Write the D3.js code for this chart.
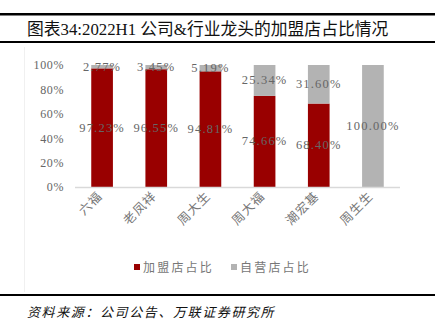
<!DOCTYPE html>
<html>
<head>
<meta charset="utf-8">
<script src="https://cdn.jsdelivr.net/npm/d3@7"></script>
<style>
  body { margin: 0; background: #fff; }
  svg { display: block; }
</style>
</head>
<body>
<svg></svg>
<script>
const companies = ['六福', '老凤祥', '周大生', '周大福', '潮宏基', '周生生'];
const franchiseShare = [97.23, 96.55, 94.81, 74.66, 68.40, 0];
const directShare = [2.77, 3.45, 5.19, 25.34, 31.60, 100];
const seriesNames = ['加盟店占比', '自营店占比'];
const yTicks = [0, 20, 40, 60, 80, 100];

const SVGsize = {w: 435, h: 321};
const plot = {l: 75, r: 400, t: 65, b: 187};
const colors = ['#990000', '#b3b3b3'];
const serif = '"Liberation Serif", "Noto Sans CJK SC", serif';
const cjk = '"Noto Sans CJK SC", sans-serif';

const svg = d3.select('svg')
    .attr('width', SVGsize.w)
    .attr('height', SVGsize.h);

// header / footer rules
svg.append('rect').attr('x', 0).attr('y', 13).attr('width', SVGsize.w).attr('height', 2.5).attr('fill', '#000');
svg.append('rect').attr('x', 0).attr('y', 41).attr('width', SVGsize.w).attr('height', 2).attr('fill', '#000');
svg.append('rect').attr('x', 0).attr('y', 294).attr('width', SVGsize.w).attr('height', 2).attr('fill', '#000');

svg.append('text')
    .attr('x', 27).attr('y', 35)
    .style('font-family', serif)
    .style('font-size', '16.8px')
    .attr('fill', '#111')
    .text('图表34:2022H1 公司&行业龙头的加盟店占比情况');

svg.append('text')
    .attr('x', 27).attr('y', 317)
    .style('font-family', cjk)
    .style('font-size', '13px')
    .style('font-style', 'italic')
    .style('letter-spacing', '1.6px')
    .attr('fill', '#111')
    .text('资料来源：公司公告、万联证券研究所');

// faint chart-area edge
svg.append('line')
    .attr('x1', 24.5).attr('x2', 24.5).attr('y1', 47).attr('y2', 292)
    .attr('stroke', '#f0f0f0');

const data = companies.map((c, i) => ({name: c, vals: [franchiseShare[i], directShare[i]]}));

const scaleX = d3.scaleBand()
    .domain(companies)
    .range([plot.l, plot.r])
    .paddingInner(0.6)
    .paddingOuter(0.3);

const scaleY = d3.scaleLinear()
    .domain([0, 100])
    .range([plot.b, plot.t]);

// y axis labels
const axisY = d3.axisLeft(scaleY)
    .tickValues(yTicks)
    .tickFormat(d => d + '%')
    .tickSize(0)
    .tickPadding(0);
const axisYG = svg.append('g')
    .attr('transform', 'translate(64, 0)')
    .call(axisY);
axisYG.select('.domain').remove();
axisYG.selectAll('text')
    .style('font-family', serif)
    .style('font-size', '12px')
    .style('letter-spacing', '0.6px')
    .attr('fill', '#666');

// stacked bars
data.forEach(d => {
    let base = 0;
    d.segs = d.vals.map((v, k) => {
        const s = {name: d.name, k: k, v: v, y0: base, y1: base + v};
        base += v;
        return s;
    });
});

const barG = svg.append('g');
barG.selectAll('g.bar')
    .data(data)
    .join('g')
    .classed('bar', true)
    .selectAll('rect')
    .data(d => d.segs.filter(s => s.v > 0))
    .join('rect')
    .attr('x', s => scaleX(s.name))
    .attr('width', scaleX.bandwidth())
    .attr('y', s => scaleY(s.y1))
    .attr('height', s => scaleY(s.y0) - scaleY(s.y1))
    .attr('fill', s => colors[s.k]);

// baseline
svg.append('line')
    .attr('x1', plot.l).attr('x2', plot.r)
    .attr('y1', plot.b + 0.5).attr('y2', plot.b + 0.5)
    .attr('stroke', '#d9d9d9')
    .attr('stroke-width', 1.5);

// value labels
const segs = data.flatMap(d => d.segs).filter(s => s.v > 0);
svg.append('g').selectAll('text')
    .data(segs)
    .join('text')
    .attr('x', s => scaleX(s.name) + scaleX.bandwidth() / 2)
    .attr('y', s => scaleY((s.y0 + s.y1) / 2) + 4)
    .attr('text-anchor', 'middle')
    .style('font-family', serif)
    .style('font-size', '12.5px')
    .style('letter-spacing', '1.2px')
    .attr('fill', '#666')
    .text(s => s.v.toFixed(2) + '%');

// x labels, rotated
svg.append('g').selectAll('text')
    .data(companies)
    .join('text')
    .attr('transform', c => `translate(${scaleX(c) + scaleX.bandwidth() / 2 + 1}, 197) rotate(-45)`)
    .attr('text-anchor', 'end')
    .style('font-family', cjk)
    .style('font-size', '12.5px')
    .style('letter-spacing', '1px')
    .attr('fill', '#777')
    .text(c => c);

// legend
const legend = svg.append('g');
const legendX = [134, 231];
seriesNames.forEach((n, i) => {
    legend.append('rect')
        .attr('x', legendX[i]).attr('y', 264)
        .attr('width', 6).attr('height', 6)
        .attr('fill', colors[i]);
    legend.append('text')
        .attr('x', legendX[i] + 9).attr('y', 272)
        .style('font-family', cjk)
        .style('font-size', '12px')
        .style('letter-spacing', '2.2px')
        .attr('fill', '#777')
        .text(n);
});
</script>
</body>
</html>
